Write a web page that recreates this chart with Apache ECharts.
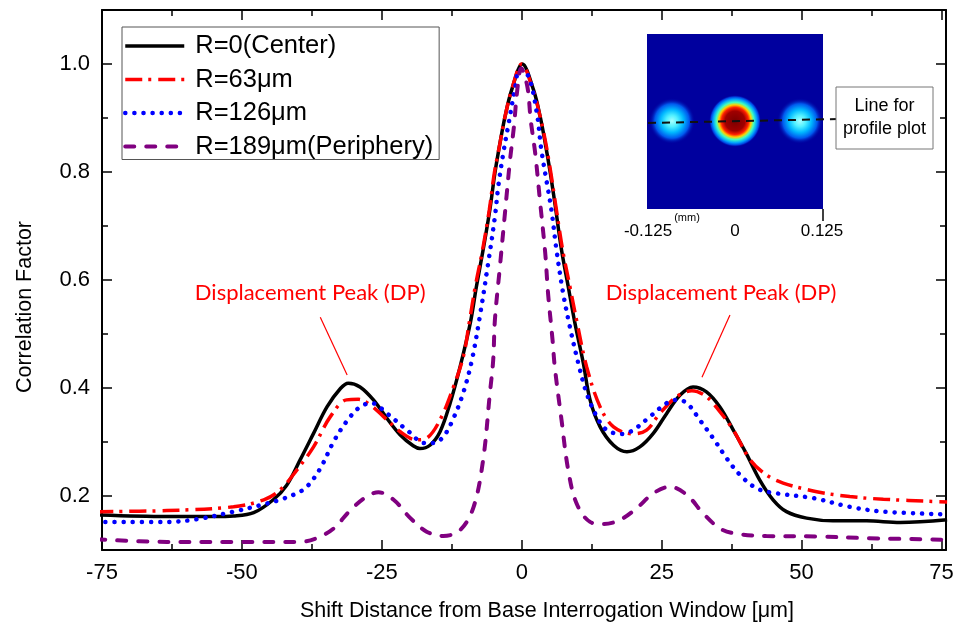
<!DOCTYPE html>
<html>
<head>
<meta charset="utf-8">
<title>Correlation factor profiles</title>
<script src="https://cdn.jsdelivr.net/npm/echarts@6/dist/echarts.min.js"></script>
<style>
  html, body { margin: 0; padding: 0; background: #fff; }
  #chart { width: 963px; height: 637px; }
</style>
</head>
<body>
<div id="chart"></div>
<script>
// values: shift distance [um] vs correlation factor
const seriesNames = ['R=0(Center)', 'R=63μm', 'R=126μm', 'R=189μm(Periphery)']

const centerX = [-76, -63.4, -55, -51.5, -47.9, -44.4, -42, -39.6, -37.2, -34.8, -32.4, -31.0, -28.9, -26.5, -24.1, -21.7, -19.4, -18.2, -16.4, -14.6, -12.8, -11.0, -9.2, -8.1, -6.9, -5.7, -4.8, -3.9, -3.0, -1.8, 0.1, 2.1, 3.3, 4.2, 5.1, 6.0, 7.1, 8.3, 9.5, 11.0, 12.2, 14.0, 16.4, 18.8, 21.1, 23.5, 25.9, 28.3, 30.6, 33.0, 35.4, 37.8, 40.1, 42.5, 44.9, 47.3, 50.9, 55.6, 61.6, 67.6, 76]
const centerY = [0.165, 0.162, 0.162, 0.163, 0.169, 0.193, 0.220, 0.267, 0.316, 0.365, 0.399, 0.409, 0.402, 0.378, 0.344, 0.313, 0.293, 0.288, 0.294, 0.319, 0.372, 0.440, 0.520, 0.588, 0.656, 0.730, 0.798, 0.853, 0.902, 0.952, 1.0, 0.952, 0.902, 0.853, 0.798, 0.736, 0.656, 0.588, 0.520, 0.446, 0.378, 0.328, 0.294, 0.282, 0.291, 0.316, 0.353, 0.387, 0.402, 0.393, 0.365, 0.322, 0.279, 0.230, 0.193, 0.171, 0.159, 0.154, 0.154, 0.151, 0.156]

const r63X = [-76, -63.4, -51.5, -46.1, -43.2, -40.2, -37.2, -34.2, -31.3, -29.2, -27.1, -24.7, -21.7, -18.8, -17.0, -14.6, -12.2, -10.4, -9.4, -8.3, -7.0, -5.8, -4.9, -3.9, -3.0, -1.8, 0, 2.0, 3.3, 4.3, 5.2, 6.1, 7.3, 8.6, 9.9, 11.6, 14.0, 16.4, 19.9, 22.3, 24.7, 27.7, 30.4, 33.0, 35.4, 37.8, 40.8, 43.7, 46.7, 52.7, 58.6, 64.6, 76]
const r63Y = [0.171, 0.173, 0.180, 0.193, 0.211, 0.248, 0.291, 0.347, 0.378, 0.379, 0.369, 0.347, 0.319, 0.304, 0.307, 0.341, 0.402, 0.460, 0.520, 0.588, 0.656, 0.730, 0.798, 0.853, 0.902, 0.952, 1.0, 0.952, 0.902, 0.853, 0.798, 0.736, 0.656, 0.588, 0.520, 0.439, 0.365, 0.328, 0.315, 0.322, 0.353, 0.384, 0.395, 0.384, 0.356, 0.322, 0.267, 0.239, 0.224, 0.208, 0.199, 0.194, 0.189]

const r126X = [-76, -63.4, -58.0, -51.5, -46.7, -43.2, -40.2, -38.4, -36.0, -33.6, -31.3, -28.9, -26.8, -24.1, -20.5, -17.3, -15.8, -14.0, -12.2, -10.4, -8.9, -7.5, -6.0, -4.8, -4.2, -3.3, -2.4, -1.2, -0.4, 1.2, 2.7, 3.5, 4.7, 5.3, 6.2, 7.4, 8.6, 10.1, 11.6, 13.4, 15.2, 17.9, 19.9, 22.9, 25.9, 27.7, 29.5, 31.8, 34.2, 36.6, 39.0, 42.0, 45.5, 52.1, 58.6, 64.6, 76]
const r126Y = [0.152, 0.152, 0.157, 0.171, 0.183, 0.193, 0.205, 0.217, 0.251, 0.301, 0.338, 0.365, 0.372, 0.353, 0.322, 0.298, 0.298, 0.310, 0.344, 0.393, 0.452, 0.532, 0.631, 0.717, 0.773, 0.835, 0.887, 0.955, 0.990, 0.977, 0.909, 0.841, 0.767, 0.730, 0.656, 0.575, 0.513, 0.446, 0.390, 0.347, 0.322, 0.315, 0.322, 0.347, 0.372, 0.378, 0.372, 0.341, 0.307, 0.270, 0.239, 0.214, 0.205, 0.196, 0.180, 0.171, 0.166]

const r189X = [-76, -63.4, -51.5, -39.6, -36.6, -33.6, -30.6, -27.7, -25.6, -22.9, -19.9, -17.0, -14.0, -11.0, -8.6, -6.9, -5.7, -5.1, -4.8, -3.9, -3.0, -2.1, -1.4, -0.8, -0.1, 1.0, 1.6, 2.4, 3.3, 4.2, 4.7, 5.5, 5.9, 7.1, 8.3, 9.8, 12.2, 14.6, 17.6, 20.5, 23.5, 26.5, 29.5, 32.4, 35.4, 38.4, 43.7, 52.7, 61.6, 76]
const r189Y = [0.120, 0.115, 0.115, 0.115, 0.122, 0.140, 0.174, 0.199, 0.207, 0.193, 0.159, 0.134, 0.126, 0.137, 0.180, 0.267, 0.390, 0.452, 0.526, 0.625, 0.724, 0.822, 0.884, 0.952, 0.992, 0.958, 0.896, 0.835, 0.742, 0.649, 0.575, 0.489, 0.439, 0.341, 0.248, 0.186, 0.152, 0.148, 0.156, 0.177, 0.205, 0.217, 0.202, 0.168, 0.140, 0.130, 0.126, 0.125, 0.122, 0.119]

const xTicks = [-75, -50, -25, 0, 25, 50, 75]
const yTicks = [0.2, 0.4, 0.6, 0.8, 1.0]
const insetTicks = ['-0.125', '0', '0.125']

const zip = (xs, ys) => xs.map((x, i) => [x, ys[i]])

const font = '"Liberation Sans", Arial, sans-serif'
const black = { color: '#000', width: 2 }
const tickStyle = { color: '#000', width: 1.5 }

const chart = echarts.init(document.getElementById('chart'))

const xBase = { type: 'value', min: -75, max: 75.8, interval: 25, splitLine: { show: false } }
const yBase = { type: 'value', min: 0.1, max: 1.1, interval: 0.1, splitLine: { show: false } }

const lineSeries = (name, data, lineStyle) => ({
  name,
  type: 'line',
  data,
  symbol: 'none',
  showSymbol: false,
  smooth: 0.35,
  clip: true,
  lineStyle
})

const blobFill = stops => new echarts.graphic.RadialGradient(0.5, 0.5, 0.5, stops)
const sideBlob = [
  { offset: 0, color: '#a8ffff' },
  { offset: 0.25, color: '#50f0ff' },
  { offset: 0.5, color: '#00b8ff' },
  { offset: 0.75, color: '#0058ee' },
  { offset: 1, color: 'rgba(0,0,158,0)' }
]

const option = {
  animation: false,
  backgroundColor: '#fff',
  grid: { left: 102, right: 17, top: 10, bottom: 87 },
  xAxis: [
    {
      ...xBase,
      position: 'bottom',
      axisLine: { onZero: false, lineStyle: black },
      axisTick: { inside: true, length: 10, lineStyle: tickStyle },
      minorTick: { show: true, splitNumber: 2, length: 6, lineStyle: tickStyle },
      axisLabel: {
        margin: 12,
        fontSize: 22,
        fontFamily: font,
        color: '#000',
        formatter: v => (xTicks.includes(v) ? String(v) : '')
      },
      name: 'Shift Distance from Base Interrogation Window [μm]',
      nameLocation: 'middle',
      nameGap: 50,
      nameTextStyle: { fontSize: 21.5, fontFamily: font, color: '#000', padding: [0, 0, 0, 46] }
    },
    {
      ...xBase,
      position: 'top',
      axisLine: { onZero: false, lineStyle: black },
      axisTick: { inside: true, length: 10, lineStyle: tickStyle },
      minorTick: { show: true, splitNumber: 2, length: 6, lineStyle: tickStyle },
      axisLabel: { show: false }
    }
  ],
  yAxis: [
    {
      ...yBase,
      position: 'left',
      axisLine: { onZero: false, lineStyle: black },
      axisTick: { inside: true, length: 6, lineStyle: tickStyle },
      axisLabel: {
        margin: 12,
        fontSize: 22,
        fontFamily: font,
        color: '#000',
        formatter: v => (Math.round(v * 10) % 2 === 0 ? v.toFixed(1) : '')
      },
      name: 'Correlation Factor',
      nameLocation: 'middle',
      nameGap: 66,
      nameTextStyle: { fontSize: 21.5, fontFamily: font, color: '#000', padding: [0, 54, 0, 0] }
    },
    {
      ...yBase,
      position: 'left',
      axisLine: { show: false, onZero: false },
      axisTick: { inside: true, length: 10, customValues: yTicks, lineStyle: tickStyle },
      axisLabel: { show: false }
    },
    {
      ...yBase,
      position: 'right',
      axisLine: { onZero: false, lineStyle: black },
      axisTick: { inside: true, length: 6, lineStyle: tickStyle },
      axisLabel: { show: false }
    },
    {
      ...yBase,
      position: 'right',
      axisLine: { show: false, onZero: false },
      axisTick: { inside: true, length: 10, customValues: yTicks, lineStyle: tickStyle },
      axisLabel: { show: false }
    }
  ],
  legend: {
    orient: 'vertical',
    left: 122,
    top: 27,
    data: seriesNames,
    itemWidth: 59,
    itemHeight: 25,
    itemGap: 7.5,
    padding: [6, 6, 0, 1],
    borderColor: '#555',
    borderWidth: 1,
    backgroundColor: '#fff',
    itemStyle: { opacity: 0, borderWidth: 0 },
    lineStyle: { width: 'inherit' },
    textStyle: { fontSize: 25.5, fontFamily: font, color: '#000', padding: [0, 0, 0, 6] }
  },
  series: [
    {
      ...lineSeries(seriesNames[0], zip(centerX, centerY), { color: '#000', width: 3.5 }),
      itemStyle: { color: '#000' },
      markLine: {
        silent: true,
        symbol: 'none',
        label: { show: false },
        lineStyle: { color: '#ff0000', width: 1.2, type: 'solid' },
        data: [
          [{ coord: [-36.0, 0.531] }, { coord: [-31.2, 0.424] }],
          [{ coord: [37.2, 0.535] }, { coord: [32.2, 0.420] }]
        ]
      },
      markPoint: {
        silent: true,
        symbol: 'rect',
        symbolSize: 1,
        itemStyle: { color: 'rgba(0,0,0,0)' },
        label: {
          show: true,
          position: 'inside',
          formatter: 'Displacement Peak (DP)',
          color: '#ff0000',
          fontSize: 22,
          fontFamily: 'Lato, "Open Sans", sans-serif'
        },
        data: [{ coord: [-37.8, 0.576] }, { coord: [35.6, 0.576] }]
      }
    },
    {
      ...lineSeries(seriesNames[1], zip(r63X, r63Y), { color: '#ff0000', width: 3.5, type: [17, 6, 3, 7], cap: 'butt' }),
      itemStyle: { color: '#ff0000' }
    },
    {
      ...lineSeries(seriesNames[2], zip(r126X, r126Y), { color: '#0000ff', width: 4.5, type: [0.1, 9], cap: 'round' }),
      itemStyle: { color: '#0000ff' }
    },
    {
      ...lineSeries(seriesNames[3], zip(r189X, r189Y), { color: '#800080', width: 4, type: [9, 12], cap: 'round' }),
      itemStyle: { color: '#800080' }
    }
  ],
  // inset: correlation map picture with the profile line
  graphic: [
    { type: 'rect', shape: { x: 647, y: 34, width: 176, height: 175 }, style: { fill: '#00009e' } },
    { type: 'ellipse', shape: { cx: 672, cy: 121, rx: 29, ry: 23 }, style: { fill: blobFill(sideBlob) } },
    { type: 'ellipse', shape: { cx: 800, cy: 121, rx: 29, ry: 23 }, style: { fill: blobFill(sideBlob) } },
    {
      type: 'ellipse',
      shape: { cx: 735, cy: 121, rx: 27, ry: 26 },
      style: {
        fill: blobFill([
          { offset: 0, color: '#7a0000' },
          { offset: 0.38, color: '#a00000' },
          { offset: 0.52, color: '#ff2000' },
          { offset: 0.62, color: '#ffd000' },
          { offset: 0.72, color: '#40ffc0' },
          { offset: 0.84, color: '#00a0ff' },
          { offset: 0.93, color: '#0040e0' },
          { offset: 1, color: 'rgba(0,0,158,0)' }
        ])
      }
    },
    { type: 'line', shape: { x1: 648, y1: 123, x2: 838, y2: 119 }, style: { stroke: '#111', lineWidth: 2, lineDash: [8, 6] } },
    { type: 'line', shape: { x1: 823, y1: 209, x2: 823, y2: 221 }, style: { stroke: '#000', lineWidth: 1.5 } },
    { type: 'rect', shape: { x: 836, y: 87, width: 97, height: 62 }, style: { fill: '#fff', stroke: '#777', lineWidth: 1 } },
    { type: 'text', style: { text: 'Line for', x: 884.5, y: 106, align: 'center', verticalAlign: 'middle', fontSize: 18, fontFamily: font, fill: '#000' } },
    { type: 'text', style: { text: 'profile plot', x: 884.5, y: 129, align: 'center', verticalAlign: 'middle', fontSize: 18, fontFamily: font, fill: '#000' } },
    { type: 'text', style: { text: insetTicks[0], x: 648, y: 231, align: 'center', verticalAlign: 'middle', fontSize: 17, fontFamily: font, fill: '#000' } },
    { type: 'text', style: { text: insetTicks[1], x: 735, y: 231, align: 'center', verticalAlign: 'middle', fontSize: 17, fontFamily: font, fill: '#000' } },
    { type: 'text', style: { text: insetTicks[2], x: 822, y: 231, align: 'center', verticalAlign: 'middle', fontSize: 17, fontFamily: font, fill: '#000' } },
    { type: 'text', style: { text: '(mm)', x: 687, y: 218, align: 'center', verticalAlign: 'middle', fontSize: 11, fontFamily: font, fill: '#000' } }
  ]
}

chart.setOption(option)
window.addEventListener('resize', () => chart.resize())
</script>
</body>
</html>
